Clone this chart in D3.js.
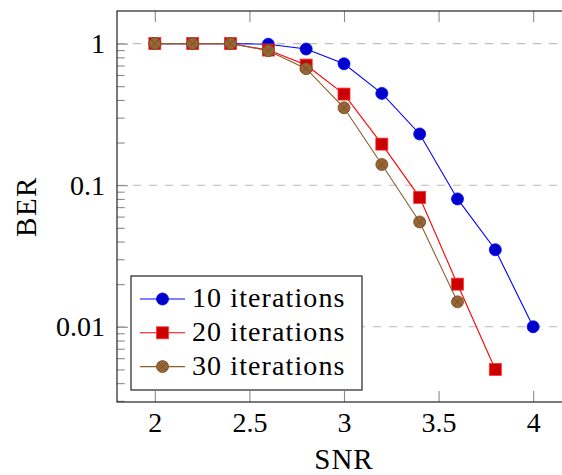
<!DOCTYPE html>
<html>
<head>
<meta charset="utf-8">
<script src="https://cdn.jsdelivr.net/npm/d3@7"></script>
<style>
  body { margin: 0; background: #fff; }
  svg text { font-family: "Liberation Serif", "DejaVu Serif", serif; }
</style>
</head>
<body>
<div id="chart"></div>
<script>
// data
const snr = [2, 2.2, 2.4, 2.6, 2.8, 3.0, 3.2, 3.4, 3.6, 3.8, 4.0];
const ber10 = [1, 1, 1, 0.99, 0.915, 0.72, 0.445, 0.23, 0.08, 0.035, 0.01];
const ber20 = [1, 1, 1, 0.9, 0.705, 0.44, 0.195, 0.082, 0.02, 0.005];
const ber30 = [1, 1, 1, 0.89, 0.665, 0.352, 0.14, 0.055, 0.015];
const seriesNames = ['10 iterations', '20 iterations', '30 iterations'];
const xTicks = [2, 2.5, 3, 3.5, 4];
const yTicks = [1, 0.1, 0.01];
const yTickLabels = ['1', '0.1', '0.01'];

const FONT = '"Liberation Serif", "DejaVu Serif", serif';

const config = {
  svgWidth: 562,
  svgHeight: 475,
  left: 117,
  right: 571,   // axis box runs past the picture edge
  top: 11,
  bottom: 402,
  fontSize: 28
};

const styles = [
  { line: '#0000ff', fill: '#0000cc', stroke: '#0000ff', mark: 'circle' },
  { line: '#ff0000', fill: '#cc0000', stroke: '#ff3333', mark: 'square' },
  { line: '#8c5e30', fill: '#996633', stroke: '#6e4b28', mark: 'otimes' }
];

const series = [ber10, ber20, ber30].map((vals, i) => ({
  name: seriesNames[i],
  values: vals.map((v, j) => ({ snr: snr[j], ber: v }))
}));

const svg = d3.select('#chart')
  .append('svg')
  .attr('width', config.svgWidth)
  .attr('height', config.svgHeight)
  .attr('font-family', FONT);

// scales (10% enlarged limits like pgfplots)
const scaleX = d3.scaleLinear()
  .domain([1.8, 4.2])
  .range([config.left, config.right]);

const scaleY = d3.scaleLog()
  .domain([Math.pow(10, 0.2301), Math.pow(10, -2.5311)])
  .range([config.top, config.bottom]);

// dashed grid on major y ticks
svg.selectAll('.grid')
  .data(yTicks)
  .join('line')
  .attr('class', 'grid')
  .attr('x1', config.left)
  .attr('x2', config.right)
  .attr('y1', d => scaleY(d))
  .attr('y2', d => scaleY(d))
  .attr('stroke', '#bdbdbd')
  .attr('stroke-width', 1.1)
  .attr('stroke-dasharray', '8,8');

// minor y ticks 2..9 per decade
const minorY = [];
[0.001, 0.01, 0.1, 1].forEach(dec => {
  for (let k = 2; k <= 9; k++) {
    const v = dec * k;
    if (v > scaleY.domain()[1] && v < scaleY.domain()[0]) minorY.push(v);
  }
});

function styleAxis(g) {
  g.attr('font-family', FONT).attr('font-size', config.fontSize);
  g.select('.domain').remove();
  g.selectAll('.tick line').attr('stroke', '#8a8a8a').attr('stroke-width', 1.1);
  g.selectAll('.tick text')
    .attr('fill', '#000')
    .attr('font-family', FONT)
    .style('font-size', config.fontSize + 'px');
}

// bottom axis with labels, ticks pointing inward
svg.append('g')
  .attr('transform', `translate(0, ${config.bottom})`)
  .call(d3.axisBottom(scaleX).tickValues(xTicks).tickSize(-11).tickPadding(10)
    .tickFormat(d3.format('')))
  .call(styleAxis);

// top axis, ticks only
svg.append('g')
  .attr('transform', `translate(0, ${config.top})`)
  .call(d3.axisTop(scaleX).tickValues(xTicks).tickSize(-11).tickFormat(''))
  .call(styleAxis);

// left axis
svg.append('g')
  .attr('transform', `translate(${config.left}, 0)`)
  .call(d3.axisLeft(scaleY).tickValues(yTicks).tickSize(-11).tickPadding(12)
    .tickFormat((d, i) => yTickLabels[i]))
  .call(styleAxis);

svg.append('g')
  .attr('transform', `translate(${config.left}, 0)`)
  .call(d3.axisLeft(scaleY).tickValues(minorY).tickSize(-7.7).tickFormat(''))
  .call(styleAxis);

// right axis (mostly off-picture)
svg.append('g')
  .attr('transform', `translate(${config.right}, 0)`)
  .call(d3.axisRight(scaleY).tickValues(yTicks.concat(minorY)).tickSize(-8).tickFormat(''))
  .call(styleAxis);

// axis box
svg.append('rect')
  .attr('x', config.left)
  .attr('y', config.top)
  .attr('width', config.right - config.left)
  .attr('height', config.bottom - config.top)
  .attr('fill', 'none')
  .attr('stroke', '#222')
  .attr('stroke-width', 1.2);

// markers
function drawMark(g, st, cx, cy) {
  if (st.mark === 'circle') {
    g.append('circle').attr('cx', cx).attr('cy', cy).attr('r', 6)
      .attr('fill', st.fill).attr('stroke', st.stroke).attr('stroke-width', 0.8);
  } else if (st.mark === 'square') {
    g.append('rect').attr('x', cx - 6).attr('y', cy - 6).attr('width', 12).attr('height', 12)
      .attr('fill', st.fill).attr('stroke', st.stroke).attr('stroke-width', 0.8);
  } else {
    g.append('circle').attr('cx', cx).attr('cy', cy).attr('r', 6)
      .attr('fill', st.fill).attr('stroke', st.stroke).attr('stroke-width', 0.8);
    const d = 6 * Math.SQRT1_2;
    g.append('path')
      .attr('d', `M${cx - d},${cy - d}L${cx + d},${cy + d}M${cx - d},${cy + d}L${cx + d},${cy - d}`)
      .attr('stroke', st.stroke).attr('stroke-width', 0.8);
  }
}

const line = d3.line()
  .x(d => scaleX(d.snr))
  .y(d => scaleY(d.ber));

series.forEach((s, i) => {
  const st = styles[i];
  const g = svg.append('g').attr('class', 'series');
  g.append('path')
    .attr('d', line(s.values))
    .attr('fill', 'none')
    .attr('stroke', st.line)
    .attr('stroke-width', 1.1);
  s.values.forEach(v => drawMark(g, st, scaleX(v.snr), scaleY(v.ber)));
});

// legend
const legend = svg.append('g');
legend.append('rect')
  .attr('x', 131)
  .attr('y', 276)
  .attr('width', 231)
  .attr('height', 114)
  .attr('fill', '#fff')
  .attr('stroke', '#222')
  .attr('stroke-width', 1.2);

series.forEach((s, i) => {
  const st = styles[i];
  const cy = 299 + i * 33.8;
  legend.append('line')
    .attr('x1', 140).attr('x2', 185)
    .attr('y1', cy).attr('y2', cy)
    .attr('stroke', st.line)
    .attr('stroke-width', 1.1);
  drawMark(legend, st, 162.5, cy);
  legend.append('text')
    .attr('x', 192)
    .attr('y', cy + 8)
    .attr('font-family', FONT)
    .style('font-size', config.fontSize + 'px')
    .style('letter-spacing', '1.1px')
    .text(s.name);
});

// axis titles
svg.append('text')
  .attr('x', (config.left + config.right) / 2)
  .attr('y', 469)
  .attr('text-anchor', 'middle')
  .attr('font-family', FONT)
  .style('font-size', '29px')
  .style('letter-spacing', '1px')
  .text('SNR');

svg.append('text')
  .attr('transform', `translate(36, ${(config.top + config.bottom) / 2}) rotate(-90)`)
  .attr('text-anchor', 'middle')
  .attr('font-family', FONT)
  .style('font-size', '29px')
  .style('letter-spacing', '1.5px')
  .text('BER');
</script>
</body>
</html>
